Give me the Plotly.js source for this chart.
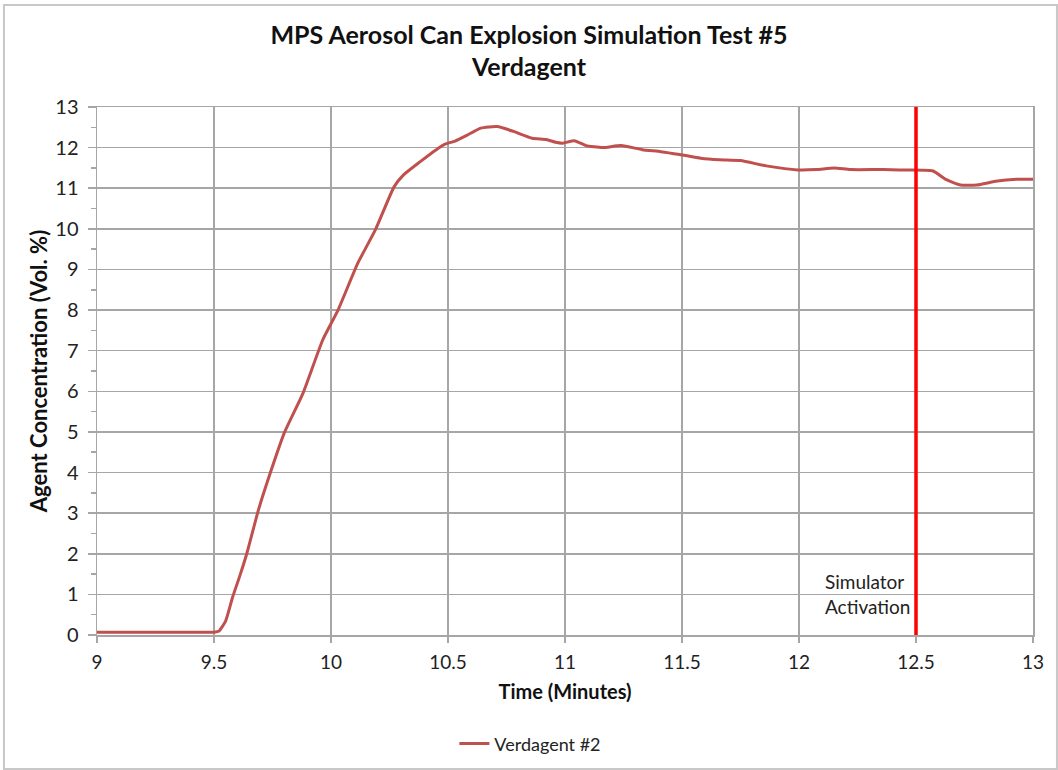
<!DOCTYPE html>
<html>
<head>
<meta charset="utf-8">
<script src="https://cdn.plot.ly/plotly-3.0.1.min.js"></script>
<style>
  html, body { margin: 0; padding: 0; background: #fff; }
  #chart { width: 1058px; height: 770px; }
</style>
</head>
<body>
<div id="chart"></div>
<script>
// Time (minutes)
const timeMin = [
  9.0, 9.2, 9.4, 9.5, 9.52, 9.55, 9.58, 9.61, 9.64, 9.69, 9.74, 9.80, 9.88, 9.965,
  10.03, 10.115, 10.19, 10.27, 10.31, 10.38, 10.45, 10.49, 10.53, 10.58, 10.64, 10.71,
  10.78, 10.86, 10.92, 10.96, 10.99, 11.04, 11.09, 11.16, 11.24, 11.33, 11.41, 11.49,
  11.58, 11.66, 11.75, 11.86, 11.995, 12.075, 12.15, 12.22, 12.36, 12.43, 12.57, 12.63,
  12.69, 12.76, 12.84, 12.93, 13.0
];
// Agent concentration (Vol. %)
const verdagent2 = [
  0.07, 0.07, 0.07, 0.07, 0.09, 0.35, 0.94, 1.45, 2.0, 3.08, 3.98, 4.97, 5.95, 7.27,
  8.0, 9.16, 9.98, 11.04, 11.33, 11.65, 11.95, 12.09, 12.16, 12.3, 12.48, 12.52,
  12.4, 12.23, 12.2, 12.13, 12.11, 12.17, 12.05, 12.0, 12.05, 11.95, 11.9, 11.83,
  11.74, 11.7, 11.68, 11.55, 11.45, 11.46, 11.5, 11.46, 11.46, 11.45, 11.43, 11.21,
  11.08, 11.08, 11.17, 11.22, 11.22
];
const activationTime = [12.5, 12.5];
const activationRange = [0, 13];
const seriesName = 'Verdagent #2';
const chartTitle = 'MPS Aerosol Can Explosion Simulation Test #5<br>Verdagent';
const annotationText = 'Simulator<br>Activation';

const FONT = 'Lato, "Open Sans", sans-serif';

const traces = [
  {
    x: timeMin, y: verdagent2, type: 'scatter', mode: 'lines', name: seriesName,
    line: { color: '#c0504d', width: 3, shape: 'spline', smoothing: 0.5 }
  },
  {
    x: activationTime, y: activationRange, type: 'scatter', mode: 'lines',
    showlegend: false, hoverinfo: 'skip',
    line: { color: '#ff0000', width: 3.5 }
  }
];

const layout = {
  width: 1058, height: 770,
  paper_bgcolor: '#ffffff', plot_bgcolor: '#ffffff',
  margin: { l: 97, r: 25, t: 107, b: 135 },
  font: { family: FONT, size: 19, color: '#222' },
  title: {
    text: chartTitle,
    font: { family: FONT, size: 25, color: '#111', weight: 'bold' },
    x: 0.5, xanchor: 'center', y: 0.943, yanchor: 'top', yref: 'container',
    automargin: false
  },
  xaxis: {
    range: [9, 13], dtick: 0.5, tick0: 9, automargin: false,
    showgrid: true, gridcolor: '#a6a6a6', gridwidth: 1.5,
    showline: true, linecolor: '#a6a6a6', linewidth: 1.5, mirror: true,
    ticks: 'outside', ticklen: 6, tickcolor: '#a6a6a6', tickwidth: 1.5,
    ticklabelstandoff: 4,
    zeroline: false,
    tickfont: { family: FONT, size: 19, color: '#222' },
    title: { text: 'Time (Minutes)', font: { family: FONT, size: 20, color: '#111', weight: 'bold' }, standoff: 12 }
  },
  yaxis: {
    range: [0, 13], dtick: 1, tick0: 0, automargin: false,
    showgrid: true, gridcolor: '#a6a6a6', gridwidth: 1.5,
    showline: true, linecolor: '#a6a6a6', linewidth: 1.5, mirror: true,
    ticks: 'outside', ticklen: 8, tickcolor: '#a6a6a6', tickwidth: 1.5,
    ticklabelstandoff: 5,
    minor: { dtick: 0.5, ticks: 'outside', ticklen: 5, tickcolor: '#a6a6a6', tickwidth: 1.5, showgrid: false },
    zeroline: false,
    tickfont: { family: FONT, size: 20, color: '#222' },
    title: { text: 'Agent Concentration (Vol. %)', font: { family: FONT, size: 22, color: '#111', weight: 'bold' }, standoff: 1 }
  },
  legend: {
    orientation: 'h', x: 0.463, xanchor: 'center',
    yref: 'container', y: 0.034, yanchor: 'middle',
    font: { family: FONT, size: 18, color: '#222' },
    bgcolor: 'rgba(0,0,0,0)'
  },
  annotations: [
    {
      x: 12.5, y: 1.0, xref: 'x', yref: 'y', text: annotationText,
      showarrow: false, xanchor: 'right', yanchor: 'middle', align: 'left', xshift: -4,
      font: { family: FONT, size: 19, color: '#222' }
    }
  ],
  shapes: [
    {
      type: 'rect', xref: 'paper', yref: 'paper',
      x0: -0.0994, x1: 1.0256, y0: -0.2538, y1: 1.193,
      line: { color: '#c8c8c8', width: 2 }, fillcolor: 'rgba(0,0,0,0)', layer: 'below'
    }
  ]
};

Plotly.newPlot('chart', traces, layout, { displayModeBar: false, staticPlot: true });
</script>
</body>
</html>
